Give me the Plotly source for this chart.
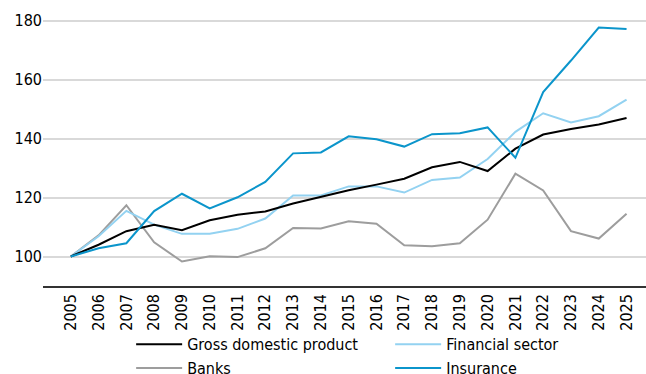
import plotly.graph_objects as go

years = list(range(2005, 2026))
gdp = [100, 104, 108.6, 110.8, 108.9, 112.3, 114.2, 115.3, 118, 120.3, 122.5, 124.4, 126.4, 130.3, 132.1, 129, 136.6, 141.4, 143.3, 144.8, 147]
financial = [100, 106.9, 115.5, 110.8, 107.7, 107.7, 109.4, 112.9, 120.7, 120.7, 123.8, 123.8, 121.7, 126, 126.8, 133.1, 142.3, 148.6, 145.5, 147.6, 153.2]
banks = [100, 107.2, 117.4, 104.8, 98.3, 100.1, 99.8, 102.8, 109.7, 109.5, 112, 111.1, 103.8, 103.5, 104.5, 112.5, 128.1, 122.4, 108.6, 106.1, 114.5]
insurance = [100, 102.8, 104.5, 115.4, 121.3, 116.3, 120.1, 125.3, 135, 135.3, 140.8, 139.8, 137.3, 141.5, 141.8, 143.8, 133.5, 155.8, 166.5, 177.7, 177.2]

series = [
    ("Gross domestic product", gdp, "#000000", 1),
    ("Financial sector", financial, "#93d2f1", 2),
    ("Banks", banks, "#9d9d9d", 3),
    ("Insurance", insurance, "#0b95cb", 4),
]

FONT = "DejaVu Sans Condensed, Tahoma, Liberation Sans, sans-serif"

fig = go.Figure()
for name, vals, color, rank in [series[2], series[1], series[0], series[3]]:
    fig.add_trace(go.Scatter(x=years, y=vals, name=name, mode="lines",
                             line=dict(color=color, width=2), legendrank=rank))

fig.update_layout(
    width=646, height=374,
    margin=dict(l=43, r=0, t=6, b=88, autoexpand=False),
    plot_bgcolor="white", paper_bgcolor="white",
    font=dict(family=FONT, size=16, color="#000000"),
    showlegend=True,
    legend=dict(orientation="h", xref="container", yref="container",
                x=0.203, xanchor="left", y=0.125, yanchor="top",
                entrywidth=198, entrywidthmode="pixels",
                itemwidth=46,
                font=dict(family=FONT, size=16, color="#000000"),
                tracegroupgap=0, bgcolor="rgba(0,0,0,0)"),
    xaxis=dict(range=[2004, 2025.7], tickmode="array", tickvals=years,
               ticktext=[str(y) for y in years], tickangle=-90,
               showgrid=False, showline=True, linecolor="#333333", linewidth=1.5,
               ticks="", zeroline=False, tickfont=dict(size=16)),
    yaxis=dict(range=[90, 185], tickvals=[100, 120, 140, 160, 180],
               showgrid=True, gridcolor="#d9d9d9", gridwidth=1.5,
               showline=False, zeroline=False, ticks="", tickfont=dict(size=16)),
)

fig.write_html("out.html")
